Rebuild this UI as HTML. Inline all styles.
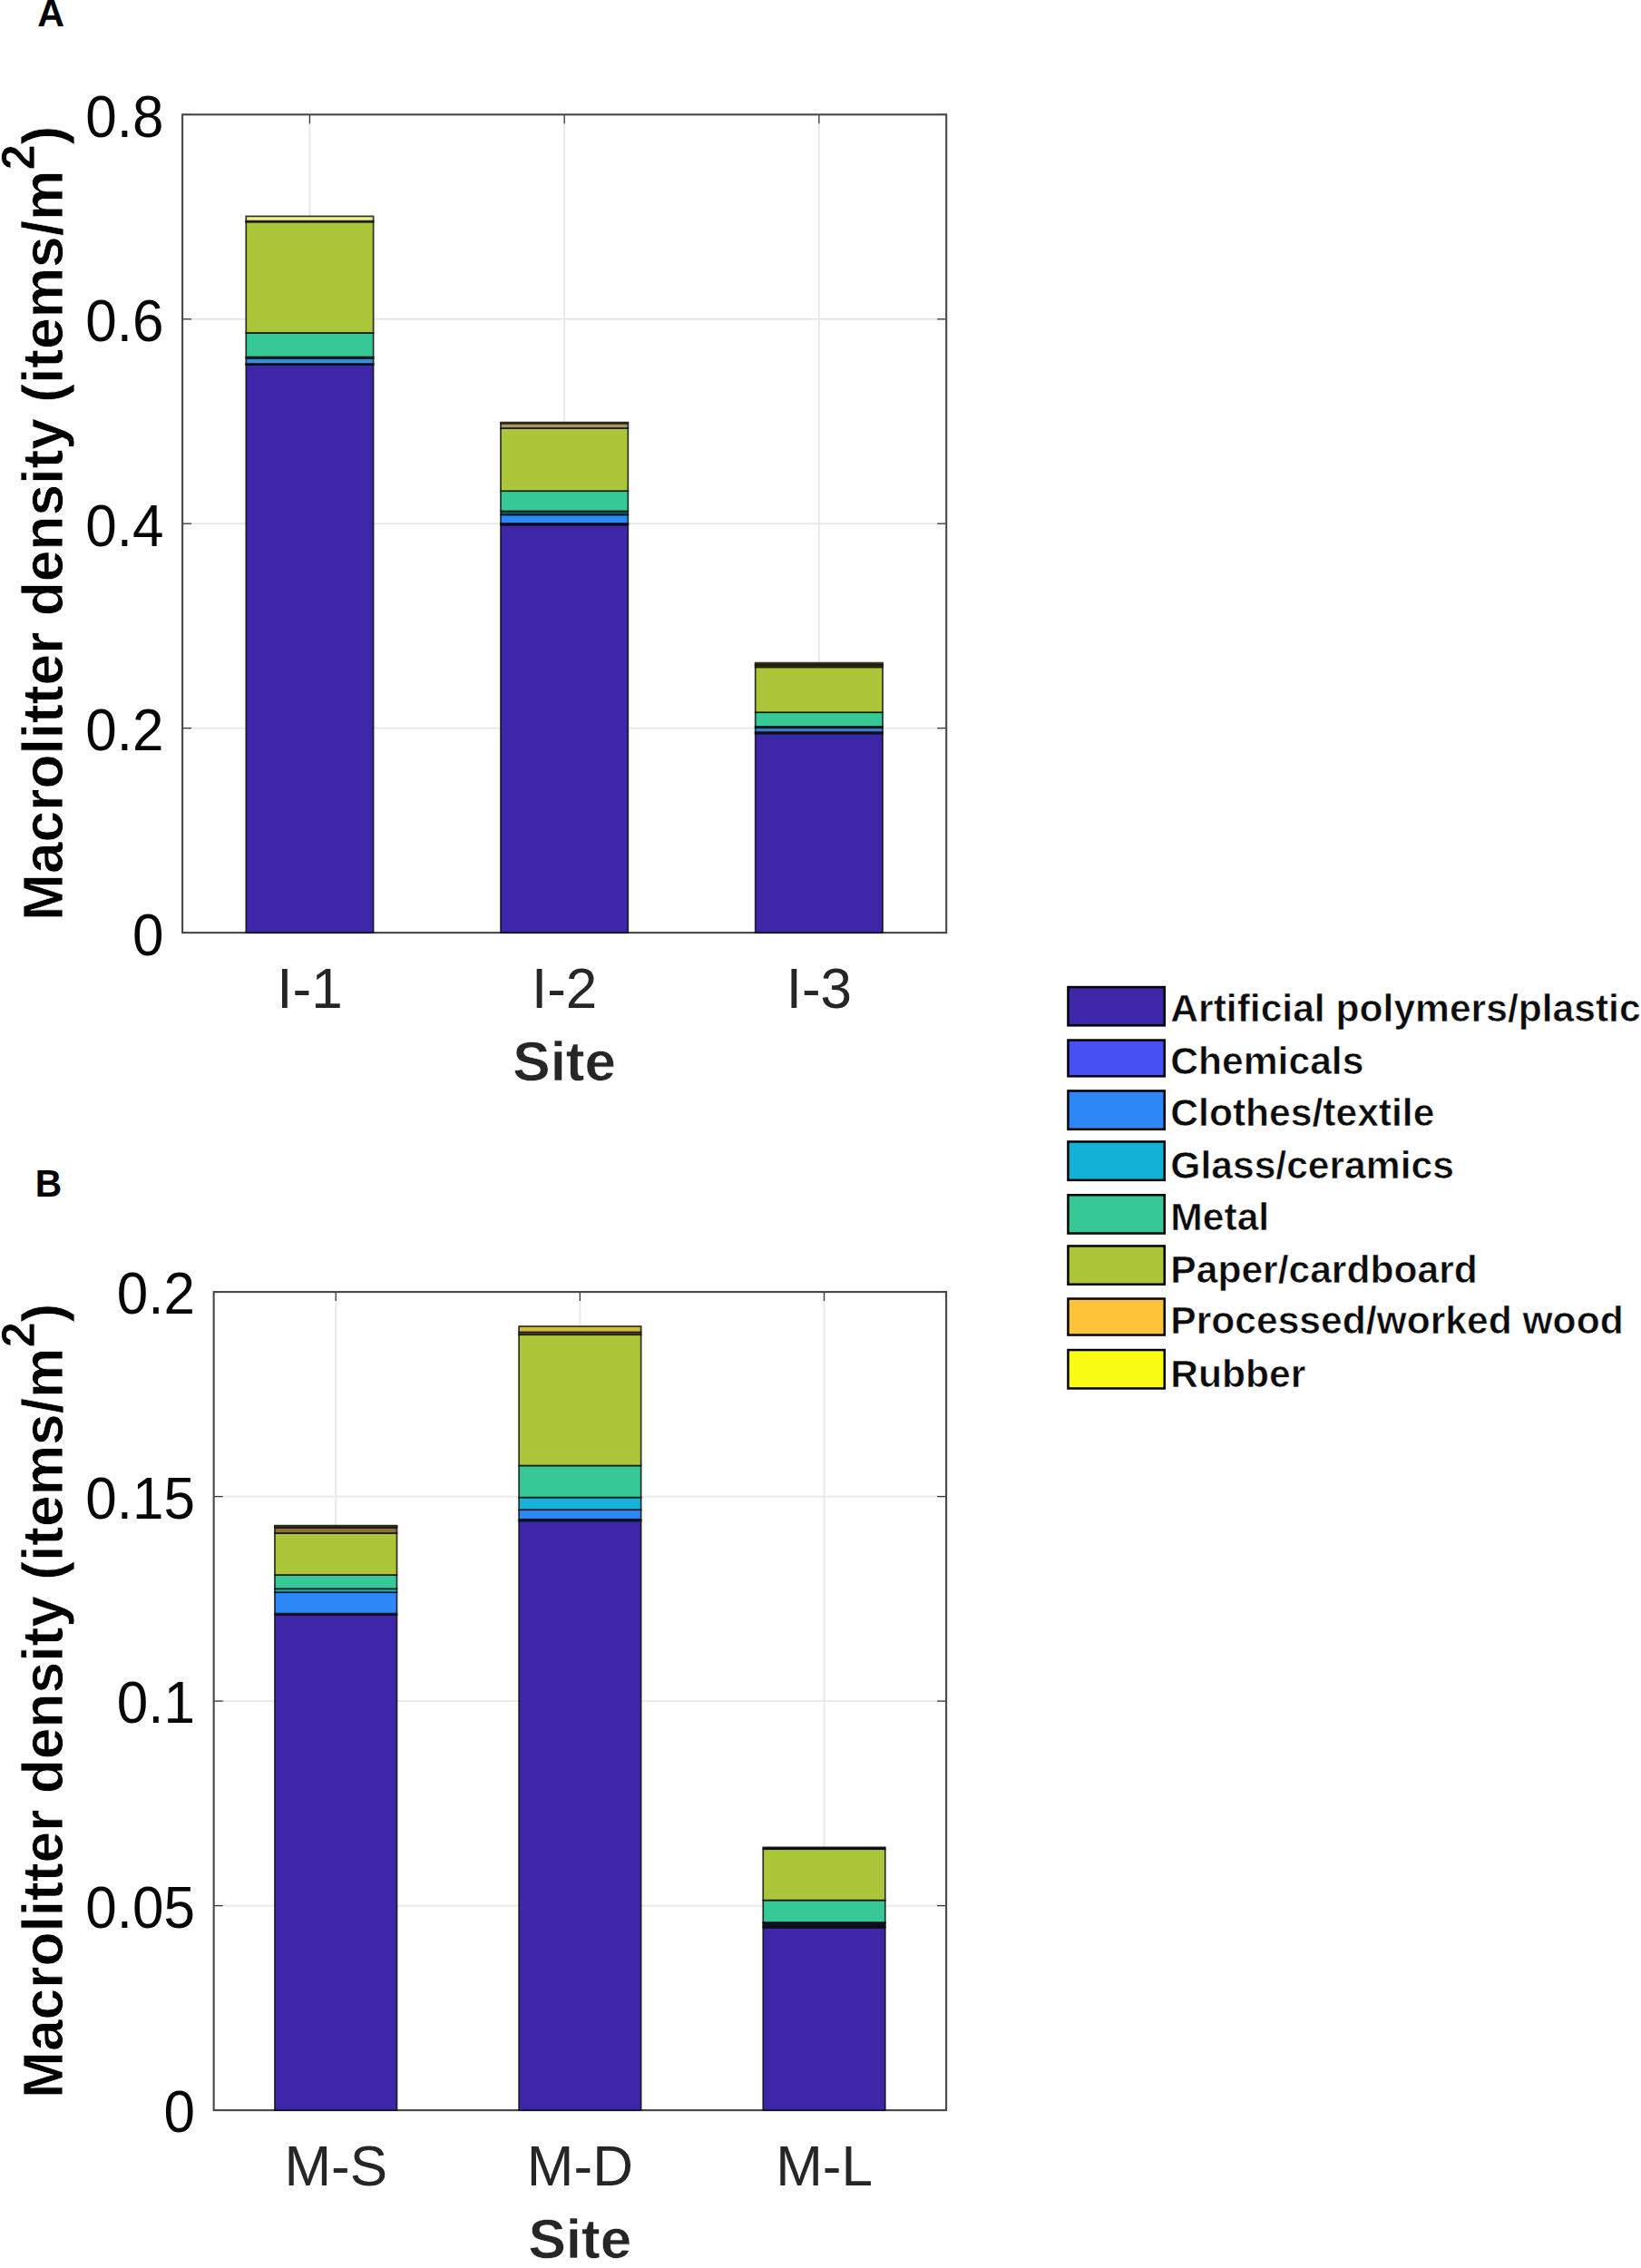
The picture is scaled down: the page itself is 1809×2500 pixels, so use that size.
<!DOCTYPE html>
<html lang="en"><head><meta charset="utf-8"><title>Macrolitter density by site</title>
<style>html,body{margin:0;padding:0;background:#fff}svg{display:block}</style></head>
<body>
<svg width="1809" height="2500" viewBox="0 0 1809 2500" font-family="'Liberation Sans', sans-serif">
<rect width="1809" height="2500" fill="#fff"/>
<line x1="341.45" y1="126.3" x2="341.45" y2="1028.1" stroke="#e8e8e8" stroke-width="1.9"/>
<line x1="622.15" y1="126.3" x2="622.15" y2="1028.1" stroke="#e8e8e8" stroke-width="1.9"/>
<line x1="902.85" y1="126.3" x2="902.85" y2="1028.1" stroke="#e8e8e8" stroke-width="1.9"/>
<line x1="201.1" y1="802.65" x2="1043.2" y2="802.65" stroke="#e8e8e8" stroke-width="1.9"/>
<line x1="201.1" y1="577.20" x2="1043.2" y2="577.20" stroke="#e8e8e8" stroke-width="1.9"/>
<line x1="201.1" y1="351.75" x2="1043.2" y2="351.75" stroke="#e8e8e8" stroke-width="1.9"/>
<line x1="341.45" y1="126.3" x2="341.45" y2="136.3" stroke="#3c3c3c" stroke-width="1.3"/>
<line x1="341.45" y1="1028.1" x2="341.45" y2="1018.0999999999999" stroke="#3c3c3c" stroke-width="1.3"/>
<line x1="622.15" y1="126.3" x2="622.15" y2="136.3" stroke="#3c3c3c" stroke-width="1.3"/>
<line x1="622.15" y1="1028.1" x2="622.15" y2="1018.0999999999999" stroke="#3c3c3c" stroke-width="1.3"/>
<line x1="902.85" y1="126.3" x2="902.85" y2="136.3" stroke="#3c3c3c" stroke-width="1.3"/>
<line x1="902.85" y1="1028.1" x2="902.85" y2="1018.0999999999999" stroke="#3c3c3c" stroke-width="1.3"/>
<line x1="201.1" y1="1028.10" x2="211.1" y2="1028.10" stroke="#3c3c3c" stroke-width="1.3"/>
<line x1="1043.2" y1="1028.10" x2="1033.2" y2="1028.10" stroke="#3c3c3c" stroke-width="1.3"/>
<line x1="201.1" y1="802.65" x2="211.1" y2="802.65" stroke="#3c3c3c" stroke-width="1.3"/>
<line x1="1043.2" y1="802.65" x2="1033.2" y2="802.65" stroke="#3c3c3c" stroke-width="1.3"/>
<line x1="201.1" y1="577.20" x2="211.1" y2="577.20" stroke="#3c3c3c" stroke-width="1.3"/>
<line x1="1043.2" y1="577.20" x2="1033.2" y2="577.20" stroke="#3c3c3c" stroke-width="1.3"/>
<line x1="201.1" y1="351.75" x2="211.1" y2="351.75" stroke="#3c3c3c" stroke-width="1.3"/>
<line x1="1043.2" y1="351.75" x2="1033.2" y2="351.75" stroke="#3c3c3c" stroke-width="1.3"/>
<line x1="201.1" y1="126.30" x2="211.1" y2="126.30" stroke="#3c3c3c" stroke-width="1.3"/>
<line x1="1043.2" y1="126.30" x2="1033.2" y2="126.30" stroke="#3c3c3c" stroke-width="1.3"/>
<rect x="201.1" y="126.3" width="842.10" height="901.80" fill="none" stroke="#484848" stroke-width="2.1"/>
<rect x="271.27" y="401.90" width="140.35" height="626.20" fill="#3E26A8" stroke="#0a0a0a" stroke-opacity="0.82" stroke-width="1.7"/>
<rect x="271.27" y="401.00" width="140.35" height="0.90" fill="#4852F4" stroke="#0a0a0a" stroke-opacity="0.82" stroke-width="1.7"/>
<rect x="271.27" y="394.90" width="140.35" height="6.10" fill="#3D8AD8" stroke="#0a0a0a" stroke-opacity="0.82" stroke-width="1.7"/>
<rect x="271.27" y="393.50" width="140.35" height="1.40" fill="#12B1D6" stroke="#0a0a0a" stroke-opacity="0.82" stroke-width="1.7"/>
<rect x="271.27" y="366.90" width="140.35" height="26.60" fill="#37C897" stroke="#0a0a0a" stroke-opacity="0.82" stroke-width="1.7"/>
<rect x="271.27" y="244.60" width="140.35" height="122.30" fill="#ABC739" stroke="#0a0a0a" stroke-opacity="0.82" stroke-width="1.7"/>
<rect x="271.27" y="243.60" width="140.35" height="1.00" fill="#FEC338" stroke="#0a0a0a" stroke-opacity="0.82" stroke-width="1.7"/>
<rect x="271.27" y="238.40" width="140.35" height="5.20" fill="#EFF08A" stroke="#0a0a0a" stroke-opacity="0.82" stroke-width="1.7"/>
<rect x="551.98" y="578.50" width="140.35" height="449.60" fill="#3E26A8" stroke="#0a0a0a" stroke-opacity="0.82" stroke-width="1.7"/>
<rect x="551.98" y="577.00" width="140.35" height="1.50" fill="#1b1b7a" stroke="#0a0a0a" stroke-opacity="0.82" stroke-width="1.7"/>
<rect x="551.98" y="567.40" width="140.35" height="9.60" fill="#2E87F7" stroke="#0a0a0a" stroke-opacity="0.82" stroke-width="1.7"/>
<rect x="551.98" y="563.40" width="140.35" height="4.00" fill="#175763" stroke="#0a0a0a" stroke-opacity="0.82" stroke-width="1.7"/>
<rect x="551.98" y="541.20" width="140.35" height="22.20" fill="#37C897" stroke="#0a0a0a" stroke-opacity="0.82" stroke-width="1.7"/>
<rect x="551.98" y="472.00" width="140.35" height="69.20" fill="#ABC739" stroke="#0a0a0a" stroke-opacity="0.82" stroke-width="1.7"/>
<rect x="551.98" y="466.60" width="140.35" height="5.40" fill="#A89565" stroke="#0a0a0a" stroke-opacity="0.82" stroke-width="1.7"/>
<rect x="551.98" y="465.60" width="140.35" height="1.00" fill="#F9FB15" stroke="#0a0a0a" stroke-opacity="0.82" stroke-width="1.7"/>
<rect x="832.68" y="808.60" width="140.35" height="219.50" fill="#3E26A8" stroke="#0a0a0a" stroke-opacity="0.82" stroke-width="1.7"/>
<rect x="832.68" y="807.00" width="140.35" height="1.60" fill="#4852F4" stroke="#0a0a0a" stroke-opacity="0.82" stroke-width="1.7"/>
<rect x="832.68" y="802.20" width="140.35" height="4.80" fill="#3F7BD0" stroke="#0a0a0a" stroke-opacity="0.82" stroke-width="1.7"/>
<rect x="832.68" y="800.90" width="140.35" height="1.30" fill="#12B1D6" stroke="#0a0a0a" stroke-opacity="0.82" stroke-width="1.7"/>
<rect x="832.68" y="785.20" width="140.35" height="15.70" fill="#37C897" stroke="#0a0a0a" stroke-opacity="0.82" stroke-width="1.7"/>
<rect x="832.68" y="735.40" width="140.35" height="49.80" fill="#ABC739" stroke="#0a0a0a" stroke-opacity="0.82" stroke-width="1.7"/>
<rect x="832.68" y="733.60" width="140.35" height="1.80" fill="#FEC338" stroke="#0a0a0a" stroke-opacity="0.82" stroke-width="1.7"/>
<rect x="832.68" y="732.00" width="140.35" height="1.60" fill="#FEC338" stroke="#0a0a0a" stroke-opacity="0.82" stroke-width="1.7"/>
<rect x="832.68" y="730.60" width="140.35" height="1.40" fill="#F9FB15" stroke="#0a0a0a" stroke-opacity="0.82" stroke-width="1.7"/>
<text transform="translate(180.40,1052.50) scale(1,1.06)" font-size="62" font-weight="normal" text-anchor="end" fill="#060606">0</text>
<text transform="translate(180.40,827.05) scale(1,1.06)" font-size="62" font-weight="normal" text-anchor="end" fill="#060606">0.2</text>
<text transform="translate(180.40,601.60) scale(1,1.06)" font-size="62" font-weight="normal" text-anchor="end" fill="#060606">0.4</text>
<text transform="translate(180.40,376.15) scale(1,1.06)" font-size="62" font-weight="normal" text-anchor="end" fill="#060606">0.6</text>
<text transform="translate(180.40,150.70) scale(1,1.06)" font-size="62" font-weight="normal" text-anchor="end" fill="#060606">0.8</text>
<text transform="translate(341.45,1110.80) scale(1,1.03)" font-size="62" font-weight="normal" text-anchor="middle" fill="#262626">I-1</text>
<text transform="translate(622.15,1110.80) scale(1,1.03)" font-size="62" font-weight="normal" text-anchor="middle" fill="#262626">I-2</text>
<text transform="translate(902.85,1110.80) scale(1,1.03)" font-size="62" font-weight="normal" text-anchor="middle" fill="#262626">I-3</text>
<text transform="translate(622.15,1191.10)" font-size="62" font-weight="bold" text-anchor="middle" fill="#262626" stroke="#fff" stroke-width="0.6">Site</text>
<g transform="translate(68.8,1015.00) rotate(-90)" font-weight="bold" fill="#000" stroke="#fff" stroke-width="0.7"><text x="0" y="0" font-size="62.3">Macrolitter density (items/m</text><text x="827.4" y="-30.7" font-size="51">2</text><text x="855.4" y="0" font-size="62.3">)</text></g>
<line x1="370.23" y1="1424.1" x2="370.23" y2="2326.1" stroke="#e8e8e8" stroke-width="1.9"/>
<line x1="639.38" y1="1424.1" x2="639.38" y2="2326.1" stroke="#e8e8e8" stroke-width="1.9"/>
<line x1="908.52" y1="1424.1" x2="908.52" y2="2326.1" stroke="#e8e8e8" stroke-width="1.9"/>
<line x1="235.65" y1="2100.60" x2="1043.1" y2="2100.60" stroke="#e8e8e8" stroke-width="1.9"/>
<line x1="235.65" y1="1875.10" x2="1043.1" y2="1875.10" stroke="#e8e8e8" stroke-width="1.9"/>
<line x1="235.65" y1="1649.60" x2="1043.1" y2="1649.60" stroke="#e8e8e8" stroke-width="1.9"/>
<line x1="370.23" y1="1424.1" x2="370.23" y2="1434.1" stroke="#3c3c3c" stroke-width="1.3"/>
<line x1="370.23" y1="2326.1" x2="370.23" y2="2316.1" stroke="#3c3c3c" stroke-width="1.3"/>
<line x1="639.38" y1="1424.1" x2="639.38" y2="1434.1" stroke="#3c3c3c" stroke-width="1.3"/>
<line x1="639.38" y1="2326.1" x2="639.38" y2="2316.1" stroke="#3c3c3c" stroke-width="1.3"/>
<line x1="908.52" y1="1424.1" x2="908.52" y2="1434.1" stroke="#3c3c3c" stroke-width="1.3"/>
<line x1="908.52" y1="2326.1" x2="908.52" y2="2316.1" stroke="#3c3c3c" stroke-width="1.3"/>
<line x1="235.65" y1="2326.10" x2="245.65" y2="2326.10" stroke="#3c3c3c" stroke-width="1.3"/>
<line x1="1043.1" y1="2326.10" x2="1033.1" y2="2326.10" stroke="#3c3c3c" stroke-width="1.3"/>
<line x1="235.65" y1="2100.60" x2="245.65" y2="2100.60" stroke="#3c3c3c" stroke-width="1.3"/>
<line x1="1043.1" y1="2100.60" x2="1033.1" y2="2100.60" stroke="#3c3c3c" stroke-width="1.3"/>
<line x1="235.65" y1="1875.10" x2="245.65" y2="1875.10" stroke="#3c3c3c" stroke-width="1.3"/>
<line x1="1043.1" y1="1875.10" x2="1033.1" y2="1875.10" stroke="#3c3c3c" stroke-width="1.3"/>
<line x1="235.65" y1="1649.60" x2="245.65" y2="1649.60" stroke="#3c3c3c" stroke-width="1.3"/>
<line x1="1043.1" y1="1649.60" x2="1033.1" y2="1649.60" stroke="#3c3c3c" stroke-width="1.3"/>
<line x1="235.65" y1="1424.10" x2="245.65" y2="1424.10" stroke="#3c3c3c" stroke-width="1.3"/>
<line x1="1043.1" y1="1424.10" x2="1033.1" y2="1424.10" stroke="#3c3c3c" stroke-width="1.3"/>
<rect x="235.65" y="1424.1" width="807.45" height="902.00" fill="none" stroke="#484848" stroke-width="2.1"/>
<rect x="302.94" y="1779.90" width="134.57" height="546.20" fill="#3E26A8" stroke="#0a0a0a" stroke-opacity="0.82" stroke-width="1.7"/>
<rect x="302.94" y="1778.60" width="134.57" height="1.30" fill="#4852F4" stroke="#0a0a0a" stroke-opacity="0.82" stroke-width="1.7"/>
<rect x="302.94" y="1755.20" width="134.57" height="23.40" fill="#2E87F7" stroke="#0a0a0a" stroke-opacity="0.82" stroke-width="1.7"/>
<rect x="302.94" y="1751.30" width="134.57" height="3.90" fill="#2BA7B8" stroke="#0a0a0a" stroke-opacity="0.82" stroke-width="1.7"/>
<rect x="302.94" y="1736.00" width="134.57" height="15.30" fill="#37C897" stroke="#0a0a0a" stroke-opacity="0.82" stroke-width="1.7"/>
<rect x="302.94" y="1690.00" width="134.57" height="46.00" fill="#ABC739" stroke="#0a0a0a" stroke-opacity="0.82" stroke-width="1.7"/>
<rect x="302.94" y="1683.80" width="134.57" height="6.20" fill="#8C6E3C" stroke="#0a0a0a" stroke-opacity="0.82" stroke-width="1.7"/>
<rect x="302.94" y="1682.60" width="134.57" height="1.20" fill="#F9FB15" stroke="#0a0a0a" stroke-opacity="0.82" stroke-width="1.7"/>
<rect x="302.94" y="1681.60" width="134.57" height="1.00" fill="#F9FB15" stroke="#0a0a0a" stroke-opacity="0.82" stroke-width="1.7"/>
<rect x="572.09" y="1676.40" width="134.57" height="649.70" fill="#3E26A8" stroke="#0a0a0a" stroke-opacity="0.82" stroke-width="1.7"/>
<rect x="572.09" y="1674.80" width="134.57" height="1.60" fill="#4852F4" stroke="#0a0a0a" stroke-opacity="0.82" stroke-width="1.7"/>
<rect x="572.09" y="1664.20" width="134.57" height="10.60" fill="#2E87F7" stroke="#0a0a0a" stroke-opacity="0.82" stroke-width="1.7"/>
<rect x="572.09" y="1650.60" width="134.57" height="13.60" fill="#17B2DA" stroke="#0a0a0a" stroke-opacity="0.82" stroke-width="1.7"/>
<rect x="572.09" y="1615.50" width="134.57" height="35.10" fill="#37C897" stroke="#0a0a0a" stroke-opacity="0.82" stroke-width="1.7"/>
<rect x="572.09" y="1471.20" width="134.57" height="144.30" fill="#ABC739" stroke="#0a0a0a" stroke-opacity="0.82" stroke-width="1.7"/>
<rect x="572.09" y="1468.40" width="134.57" height="2.80" fill="#6f6418" stroke="#0a0a0a" stroke-opacity="0.82" stroke-width="1.7"/>
<rect x="572.09" y="1462.00" width="134.57" height="6.40" fill="#CDBB3A" stroke="#0a0a0a" stroke-opacity="0.82" stroke-width="1.7"/>
<rect x="841.24" y="2124.80" width="134.57" height="201.30" fill="#3E26A8" stroke="#0a0a0a" stroke-opacity="0.82" stroke-width="1.7"/>
<rect x="841.24" y="2123.20" width="134.57" height="1.60" fill="#1b1b7a" stroke="#0a0a0a" stroke-opacity="0.82" stroke-width="1.7"/>
<rect x="841.24" y="2120.40" width="134.57" height="2.80" fill="#101a50" stroke="#0a0a0a" stroke-opacity="0.82" stroke-width="1.7"/>
<rect x="841.24" y="2119.00" width="134.57" height="1.40" fill="#0c3a40" stroke="#0a0a0a" stroke-opacity="0.82" stroke-width="1.7"/>
<rect x="841.24" y="2094.60" width="134.57" height="24.40" fill="#37C897" stroke="#0a0a0a" stroke-opacity="0.82" stroke-width="1.7"/>
<rect x="841.24" y="2038.20" width="134.57" height="56.40" fill="#ABC739" stroke="#0a0a0a" stroke-opacity="0.82" stroke-width="1.7"/>
<rect x="841.24" y="2036.30" width="134.57" height="1.90" fill="#0a0a0a" stroke="#0a0a0a" stroke-opacity="0.82" stroke-width="1.7"/>
<text transform="translate(214.95,2350.40) scale(1,1.06)" font-size="62" font-weight="normal" text-anchor="end" fill="#060606">0</text>
<text transform="translate(214.95,2124.90) scale(1,1.06)" font-size="62" font-weight="normal" text-anchor="end" fill="#060606">0.05</text>
<text transform="translate(214.95,1899.40) scale(1,1.06)" font-size="62" font-weight="normal" text-anchor="end" fill="#060606">0.1</text>
<text transform="translate(214.95,1673.90) scale(1,1.06)" font-size="62" font-weight="normal" text-anchor="end" fill="#060606">0.15</text>
<text transform="translate(214.95,1448.40) scale(1,1.06)" font-size="62" font-weight="normal" text-anchor="end" fill="#060606">0.2</text>
<text transform="translate(370.23,2408.80) scale(1,1.03)" font-size="62" font-weight="normal" text-anchor="middle" fill="#262626">M-S</text>
<text transform="translate(639.38,2408.80) scale(1,1.03)" font-size="62" font-weight="normal" text-anchor="middle" fill="#262626">M-D</text>
<text transform="translate(908.52,2408.80) scale(1,1.03)" font-size="62" font-weight="normal" text-anchor="middle" fill="#262626">M-L</text>
<text transform="translate(639.38,2489.10)" font-size="62" font-weight="bold" text-anchor="middle" fill="#262626" stroke="#fff" stroke-width="0.6">Site</text>
<g transform="translate(68.8,2313.00) rotate(-90)" font-weight="bold" fill="#000" stroke="#fff" stroke-width="0.7"><text x="0" y="0" font-size="62.3">Macrolitter density (items/m</text><text x="827.4" y="-30.7" font-size="51">2</text><text x="855.4" y="0" font-size="62.3">)</text></g>
<text transform="translate(41.30,29.25) scale(1,1.04)" font-size="41.2" font-weight="bold" text-anchor="start" fill="#000">A</text>
<text transform="translate(38.80,1319.20) scale(1,1.04)" font-size="40.8" font-weight="bold" text-anchor="start" fill="#000">B</text>
<rect x="1177.45" y="1088.05" width="106.30" height="42.30" fill="#3E26A8" stroke="#000" stroke-width="2.5"/>
<text transform="translate(1290.30,1126.20) scale(1,0.99)" font-size="42.6" font-weight="bold" text-anchor="start" fill="#0c0c0c" stroke="#fff" stroke-width="0.6">Artificial polymers/plastic</text>
<rect x="1177.45" y="1146.55" width="106.30" height="39.80" fill="#4852F4" stroke="#000" stroke-width="2.5"/>
<text transform="translate(1290.30,1184.10) scale(1,0.99)" font-size="42.6" font-weight="bold" text-anchor="start" fill="#0c0c0c" stroke="#fff" stroke-width="0.6">Chemicals</text>
<rect x="1177.45" y="1202.45" width="106.30" height="42.40" fill="#2E87F7" stroke="#000" stroke-width="2.5"/>
<text transform="translate(1290.30,1240.60) scale(1,0.99)" font-size="42.6" font-weight="bold" text-anchor="start" fill="#0c0c0c" stroke="#fff" stroke-width="0.6">Clothes/textile</text>
<rect x="1177.45" y="1258.45" width="106.30" height="42.40" fill="#12B1D6" stroke="#000" stroke-width="2.5"/>
<text transform="translate(1290.30,1298.50) scale(1,0.99)" font-size="42.6" font-weight="bold" text-anchor="start" fill="#0c0c0c" stroke="#fff" stroke-width="0.6">Glass/ceramics</text>
<rect x="1177.45" y="1317.25" width="106.30" height="42.30" fill="#37C897" stroke="#000" stroke-width="2.5"/>
<text transform="translate(1290.30,1355.60) scale(1,0.99)" font-size="42.6" font-weight="bold" text-anchor="start" fill="#0c0c0c" stroke="#fff" stroke-width="0.6">Metal</text>
<rect x="1177.45" y="1373.45" width="106.30" height="42.30" fill="#ABC739" stroke="#000" stroke-width="2.5"/>
<text transform="translate(1290.30,1413.50) scale(1,0.99)" font-size="42.6" font-weight="bold" text-anchor="start" fill="#0c0c0c" stroke="#fff" stroke-width="0.6">Paper/cardboard</text>
<rect x="1177.45" y="1431.55" width="106.30" height="40.00" fill="#FEC338" stroke="#000" stroke-width="2.5"/>
<text transform="translate(1290.30,1469.70) scale(1,0.99)" font-size="42.6" font-weight="bold" text-anchor="start" fill="#0c0c0c" stroke="#fff" stroke-width="0.6">Processed/worked wood</text>
<rect x="1177.45" y="1488.05" width="106.30" height="42.40" fill="#F9FB15" stroke="#000" stroke-width="2.5"/>
<text transform="translate(1290.30,1528.60) scale(1,0.99)" font-size="42.6" font-weight="bold" text-anchor="start" fill="#0c0c0c" stroke="#fff" stroke-width="0.6">Rubber</text>
</svg>
</body></html>
